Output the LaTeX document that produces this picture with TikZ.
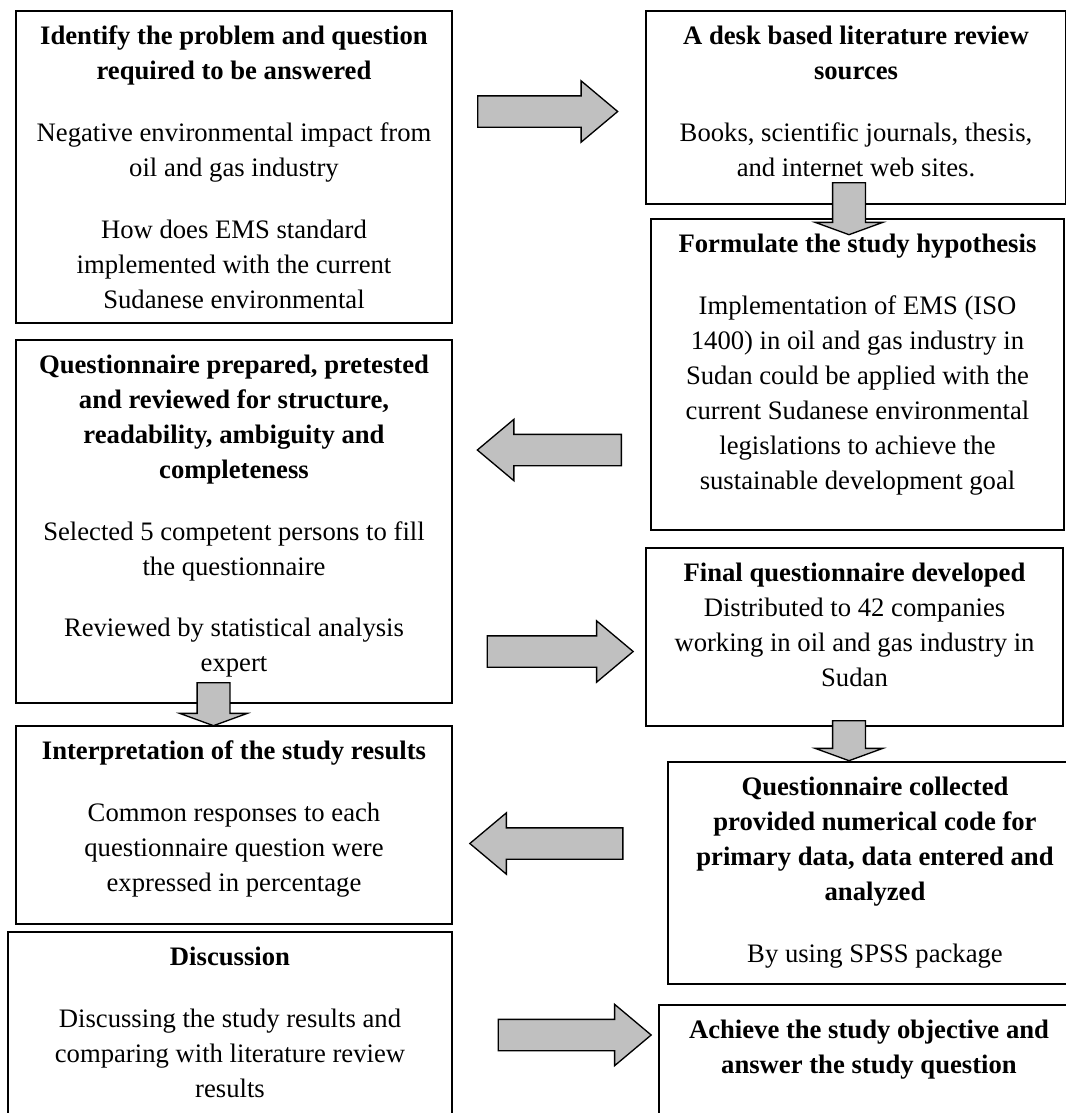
\documentclass[tikz,border=0pt]{standalone}
\usepackage{fontspec}
\setmainfont{Liberation Serif}
\usepackage{tikz}
\usetikzlibrary{shapes.arrows}
\definecolor{arrowgray}{RGB}{192,192,192}
\newcommand{\pxu}{0.45pt}
\tikzset{
    box/.style={draw, line width=0.9pt, fill=white, rectangle, inner sep=0pt, anchor=north west},
    boxtext/.style={anchor=north, align=center, inner sep=0pt, yshift=-7pt,
            font=\fontsize{12}{15.75}\selectfont},
    sidearrow/.style={single arrow, draw, line width=0.6pt, fill=arrowgray, inner sep=15*\pxu,
            single arrow head extend=15*\pxu, single arrow tip angle=80, anchor=tail},
    downarrow/.style={single arrow, draw, line width=0.6pt, fill=arrowgray, inner sep=15.75*\pxu,
            single arrow head extend=17.5*\pxu, single arrow tip angle=140,
            shape border rotate=270, anchor=tail},
}

\begin{document}
\begin{tikzpicture}[x=0.45pt, y=-0.45pt]
        \useasboundingbox (0,0) rectangle (1066,1113);
        \clip (0,0) rectangle (1066,1113);
        %draw boxes
        \node[box, minimum width=436*\pxu, minimum height=312*\pxu] (b1) at (15,10) {};
        \node[box, minimum width=420*\pxu, minimum height=193*\pxu] (b2) at (645,10) {};
        \node[box, minimum width=413*\pxu, minimum height=311*\pxu] (b3) at (650,218) {};
        \node[box, minimum width=436*\pxu, minimum height=363*\pxu] (b4) at (15,339) {};
        \node[box, minimum width=417*\pxu, minimum height=178*\pxu] (b5) at (645,547) {};
        \node[box, minimum width=436*\pxu, minimum height=198*\pxu] (b6) at (15,725) {};
        \node[box, minimum width=414*\pxu, minimum height=222*\pxu] (b7) at (667,761) {};
        \node[box, minimum width=444*\pxu, minimum height=190*\pxu] (b8) at (7,931) {};
        \node[box, minimum width=420*\pxu, minimum height=120*\pxu] (b9) at (658,1004) {};
        %draw texts
        \node[boxtext] (t1) at (b1.north) {\textbf{Identify the problem and question}\\
            \textbf{required to be answered}\\[12pt]
            Negative environmental impact from\\ oil and gas industry\\[12pt]
            How does EMS standard\\ implemented with the current\\ Sudanese environmental};
        \node[boxtext] (t2) at (b2.north) {\textbf{A desk based literature review}\\
            \textbf{sources}\\[12pt]
            Books, scientific journals, thesis,\\ and internet web sites.};
        \node[boxtext] (t3) at (b3.north) {\textbf{Formulate the study hypothesis}\\[12pt]
            Implementation of EMS (ISO\\ 1400) in oil and gas industry in\\
            Sudan could be applied with the\\ current Sudanese environmental\\
            legislations to achieve the\\ sustainable development goal};
        \node[boxtext] (t4) at (b4.north) {\textbf{Questionnaire prepared, pretested}\\
            \textbf{and reviewed for structure,}\\ \textbf{readability, ambiguity and}\\
            \textbf{completeness}\\[12pt]
            Selected 5 competent persons to fill\\ the questionnaire\\[12pt]
            Reviewed by statistical analysis\\ expert};
        \node[boxtext] (t5) at (b5.north) {\textbf{Final questionnaire developed}\\
            Distributed to 42 companies\\ working in oil and gas industry in\\ Sudan};
        \node[boxtext] (t6) at (b6.north) {\textbf{Interpretation of the study results}\\[12pt]
            Common responses to each\\ questionnaire question were\\ expressed in percentage};
        \node[boxtext] (t7) at (b7.north) {\textbf{Questionnaire collected}\\
            \textbf{provided numerical code for}\\ \textbf{primary data, data entered and}\\
            \textbf{analyzed}\\[12pt]
            By using SPSS package};
        \node[boxtext] (t8) at (b8.north) {\textbf{Discussion}\\[12pt]
            Discussing the study results and\\ comparing with literature review\\ results};
        \node[boxtext] (t9) at (b9.north) {\textbf{Achieve the study objective and}\\
            \textbf{answer the study question}};
        %draw arrows
        \node[sidearrow, minimum height=140*\pxu] (a1) at (477,111.5) {};
        \node[downarrow, minimum height=52*\pxu] (a2) at (849,182) {};
        \node[sidearrow, shape border rotate=180, minimum height=144*\pxu] (a3) at (622,450) {};
        \node[sidearrow, minimum height=146*\pxu] (a4) at (486.5,651.5) {};
        \node[downarrow, minimum height=43*\pxu] (a5) at (213.5,682) {};
        \node[downarrow, minimum height=40*\pxu] (a6) at (849,720) {};
        \node[sidearrow, shape border rotate=180, minimum height=153*\pxu] (a7) at (623.5,843.5) {};
        \node[sidearrow, minimum height=153*\pxu] (a8) at (497.5,1035) {};
    \end{tikzpicture}
\end{document}
